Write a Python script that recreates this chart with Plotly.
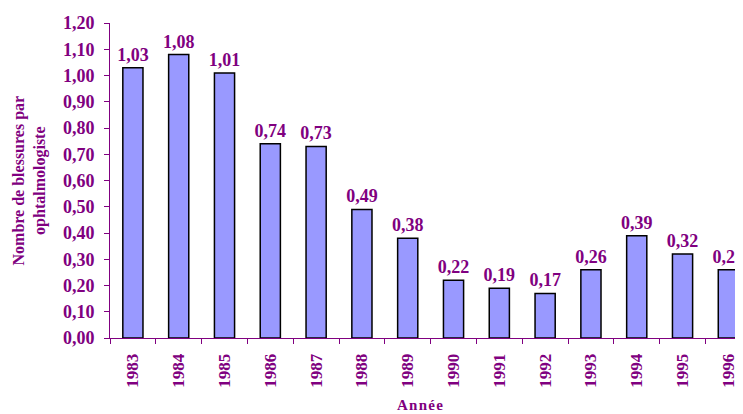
import plotly.graph_objects as go

years = ["1983", "1984", "1985", "1986", "1987", "1988", "1989",
         "1990", "1991", "1992", "1993", "1994", "1995", "1996"]
values = [1.03, 1.08, 1.01, 0.74, 0.73, 0.49, 0.38,
          0.22, 0.19, 0.17, 0.26, 0.39, 0.32, 0.26]
labels = [f"{v:.2f}".replace(".", ",") for v in values]

PURPLE = "#800080"
FONT = "Liberation Serif, Times New Roman, serif"

fig = go.Figure(go.Bar(
    x=years, y=values, text=labels, textposition="outside",
    constraintext="none",
    textfont=dict(family=FONT, size=18, color=PURPLE, weight="bold"),
    marker=dict(color="#9999FF", line=dict(color="#000000", width=1.5)),
    width=0.44, cliponaxis=False,
))

fig.update_layout(
    width=735, height=406,
    margin=dict(l=102, r=0, t=15, b=76),
    paper_bgcolor="white", plot_bgcolor="white",
    separators=", ",
    showlegend=False,
    font=dict(family=FONT, size=16, color=PURPLE, weight="bold"),
    xaxis=dict(
        type="category", range=[-0.5, 13.32],
        showline=True, linecolor=PURPLE, linewidth=1,
        ticks="outside", tickson="boundaries", ticklen=5, tickcolor=PURPLE,
        tickangle=-90, showgrid=False, ticklabelstandoff=8,
        tickfont=dict(family=FONT, size=17, color=PURPLE, weight="bold"),
    ),
    yaxis=dict(
        range=[0, 1.2], dtick=0.1, tickformat=".2f",
        showline=True, linecolor=PURPLE, linewidth=1,
        ticks="outside", ticklen=5, tickcolor=PURPLE,
        showgrid=False, zeroline=False, ticklabelstandoff=6,
        tickfont=dict(family=FONT, size=18, color=PURPLE, weight="bold"),
    ),
    annotations=[
        dict(text="Nombre de blessures par<br>ophtalmologiste",
             xref="paper", yref="paper", x=-0.1264, y=0.5,
             xanchor="center", yanchor="middle",
             textangle=-90, showarrow=False,
             font=dict(family=FONT, size=16, color=PURPLE, weight="bold")),
        dict(text="A\u200an\u200an\u200aé\u200ae",
             xref="paper", yref="paper", x=0.49, y=-0.213,
             xanchor="center", yanchor="middle",
             showarrow=False,
             font=dict(family=FONT, size=15, color=PURPLE, weight="bold")),
    ],
)

fig.write_html("out.html")
